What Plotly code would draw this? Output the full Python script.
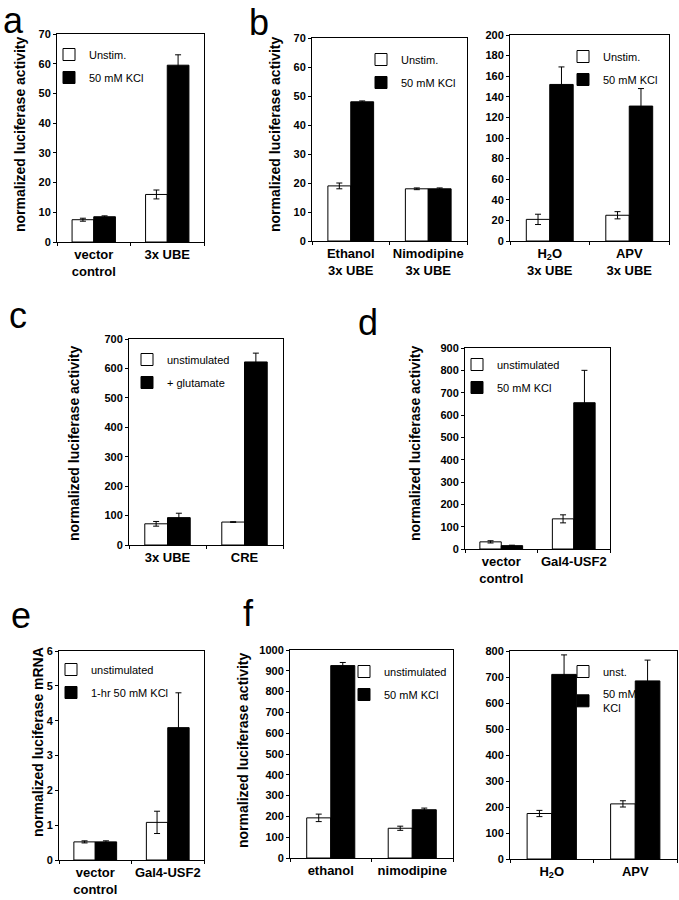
import plotly.graph_objects as go

W, H = 679, 900
FONT = "Liberation Sans, Arial, sans-serif"

# ---------------- data ----------------
# panel a
a_cats = ["vector<br>control", "3x UBE"]
a_unstim = [7.5, 16.0]
a_unstim_err = [0.5, 1.5]
a_kcl = [8.5, 59.5]
a_kcl_err = [0.3, 3.5]

# panel b (left)
b1_cats = ["Ethanol<br>3x UBE", "Nimodipine<br>3x UBE"]
b1_unstim = [19.0, 18.0]
b1_unstim_err = [1.0, 0.3]
b1_kcl = [48.0, 18.0]
b1_kcl_err = [0.3, 0.3]

# panel b (right)
b2_cats = ["H<sub>2</sub>O<br>3x UBE", "APV<br>3x UBE"]
b2_unstim = [21.0, 25.0]
b2_unstim_err = [5.0, 3.5]
b2_kcl = [152.0, 131.0]
b2_kcl_err = [17.0, 17.0]

# panel c
c_cats = ["3x UBE", "CRE"]
c_unstim = [72.0, 78.0]
c_unstim_err = [8.0, 1.0]
c_glu = [93.0, 622.0]
c_glu_err = [15.0, 30.0]

# panel d
d_cats = ["vector<br>control", "Gal4-USF2"]
d_unstim = [32.0, 135.0]
d_unstim_err = [5.0, 18.0]
d_kcl = [15.0, 655.0]
d_kcl_err = [2.0, 145.0]

# panel e
e_cats = ["vector<br>control", "Gal4-USF2"]
e_unstim = [0.52, 1.08]
e_unstim_err = [0.03, 0.32]
e_kcl = [0.52, 3.8]
e_kcl_err = [0.03, 1.0]

# panel f (left)
f1_cats = ["ethanol", "nimodipine"]
f1_unstim = [193.0, 143.0]
f1_unstim_err = [18.0, 10.0]
f1_kcl = [925.0, 232.0]
f1_kcl_err = [15.0, 8.0]

# panel f (right)
f2_cats = ["H<sub>2</sub>O", "APV"]
f2_unstim = [175.0, 212.0]
f2_unstim_err = [12.0, 12.0]
f2_kcl = [710.0, 685.0]
f2_kcl_err = [75.0, 80.0]

# ---------------- layout config ----------------
panels = [
    dict(cats=a_cats, s1=a_unstim, e1=a_unstim_err, s2=a_kcl, e2=a_kcl_err,
         names=["Unstim.", "50 mM KCl"], yr=[0, 70], dt=10,
         px=(57, 204, 34, 242), leg=(64, 45)),
    dict(cats=b1_cats, s1=b1_unstim, e1=b1_unstim_err, s2=b1_kcl, e2=b1_kcl_err,
         names=["Unstim.", "50 mM KCl"], yr=[0, 70], dt=10,
         px=(312, 467, 38, 241), leg=(376, 50)),
    dict(cats=b2_cats, s1=b2_unstim, e1=b2_unstim_err, s2=b2_kcl, e2=b2_kcl_err,
         names=["Unstim.", "50 mM KCl"], yr=[0, 200], dt=20,
         px=(510, 669, 35, 241), leg=(578, 47)),
    dict(cats=c_cats, s1=c_unstim, e1=c_unstim_err, s2=c_glu, e2=c_glu_err,
         names=["unstimulated", "+ glutamate"], yr=[0, 700], dt=100,
         px=(129, 283, 339, 545), leg=(142, 350)),
    dict(cats=d_cats, s1=d_unstim, e1=d_unstim_err, s2=d_kcl, e2=d_kcl_err,
         names=["unstimulated", "50 mM KCl"], yr=[0, 900], dt=100,
         px=(465, 610, 348, 549), leg=(472, 355)),
    dict(cats=e_cats, s1=e_unstim, e1=e_unstim_err, s2=e_kcl, e2=e_kcl_err,
         names=["unstimulated", "1-hr 50 mM KCl"], yr=[0, 6], dt=1,
         px=(59, 204, 651, 860), leg=(66, 660)),
    dict(cats=f1_cats, s1=f1_unstim, e1=f1_unstim_err, s2=f1_kcl, e2=f1_kcl_err,
         names=["unstimulated", "50 mM KCl"], yr=[0, 1000], dt=100,
         px=(290, 453, 650, 858), leg=(359, 662)),
    dict(cats=f2_cats, s1=f2_unstim, e1=f2_unstim_err, s2=f2_kcl, e2=f2_kcl_err,
         names=["unst.", "50 mM<br>KCl"], yr=[0, 800], dt=100,
         px=(510, 677, 651, 859), leg=(578, 662)),
]

fig = go.Figure()
layout = dict(
    template="none",
    width=W, height=H,
    margin=dict(l=0, r=0, t=0, b=0, pad=0, autoexpand=False),
    paper_bgcolor="white", plot_bgcolor="white",
    barmode="group", bargap=0.41, bargroupgap=0,
    font=dict(family=FONT, color="black", size=11),
    showlegend=True,
)


def fx(p):
    return p / W


def fy(p):
    return 1 - p / H


for i, p in enumerate(panels):
    n = i + 1
    xa = "x" if n == 1 else f"x{n}"
    ya = "y" if n == 1 else f"y{n}"
    lg = "legend" if n == 1 else f"legend{n}"
    for k, (vals, errs, col) in enumerate([(p["s1"], p["e1"], "white"),
                                           (p["s2"], p["e2"], "black")]):
        fig.add_trace(go.Bar(
            x=p["cats"], y=vals, name=p["names"][k],
            marker=dict(color=col, line=dict(color="black", width=1)),
            error_y=dict(type="data", array=errs, color="black",
                         thickness=1, width=3),
            xaxis=xa, yaxis=ya, legend=lg, legendgroup=f"g{n}_{k}",
        ))
    x0, x1, y0, y1 = p["px"]
    layout["xaxis" if n == 1 else f"xaxis{n}"] = dict(
        domain=[fx(x0), fx(x1)], anchor=ya, automargin=False,
        showline=True, linecolor="black", linewidth=1, mirror=True,
        ticks="outside", ticklen=3, tickson="boundaries", tickcolor="black",
        tickangle=0,
        tickfont=dict(family=FONT, size=13, color="black", weight="bold"),
        showgrid=False, zeroline=False, fixedrange=True,
    )
    layout["yaxis" if n == 1 else f"yaxis{n}"] = dict(
        domain=[fy(y1), fy(y0)], anchor=xa, range=p["yr"], dtick=p["dt"],
        automargin=False,
        showline=True, linecolor="black", linewidth=1, mirror=True,
        ticks="outside", ticklen=3, tickcolor="black",
        tickfont=dict(family=FONT, size=11, color="black", weight="bold"),
        showgrid=False, zeroline=False, fixedrange=True,
    )
    lx, ly = p["leg"]
    layout[lg] = dict(
        x=fx(lx - 15), y=fy(ly - 5), xanchor="left", yanchor="top",
        bgcolor="rgba(0,0,0,0)", borderwidth=0,
        font=dict(family=FONT, size=11, color="black"),
        tracegroupgap=4, itemclick=False, itemdoubleclick=False,
    )

fig.update_layout(**layout)

# panel letters
letters = [("a", 13, 21), ("b", 259, 22), ("c", 18, 315), ("d", 368, 322),
           ("e", 21, 615), ("f", 249, 613)]
for t, x, y in letters:
    fig.add_annotation(text=t, x=fx(x), y=fy(y), xref="paper", yref="paper",
                       xanchor="center", yanchor="middle", showarrow=False,
                       font=dict(family=FONT, size=36, color="black"))

# y-axis titles
ytitles = [("normalized luciferase activity", 20, 134),
           ("normalized luciferase activity", 275, 134),
           ("normalized luciferase activity", 74, 443),
           ("normalized luciferase activity", 415, 443),
           ("normalized luciferase mRNA", 38, 742),
           ("normalized luciferase activity", 243, 750)]
for t, x, y in ytitles:
    fig.add_annotation(text=t, x=fx(x), y=fy(y), xref="paper", yref="paper",
                       xanchor="center", yanchor="middle", showarrow=False,
                       textangle=-90,
                       font=dict(family=FONT, size=14, color="black", weight="bold"))

fig.write_html("out.html",
               config={"displayModeBar": False, "staticPlot": True},
               post_script="document.body.style.margin='0';"
                           "document.body.style.overflow='hidden';")
